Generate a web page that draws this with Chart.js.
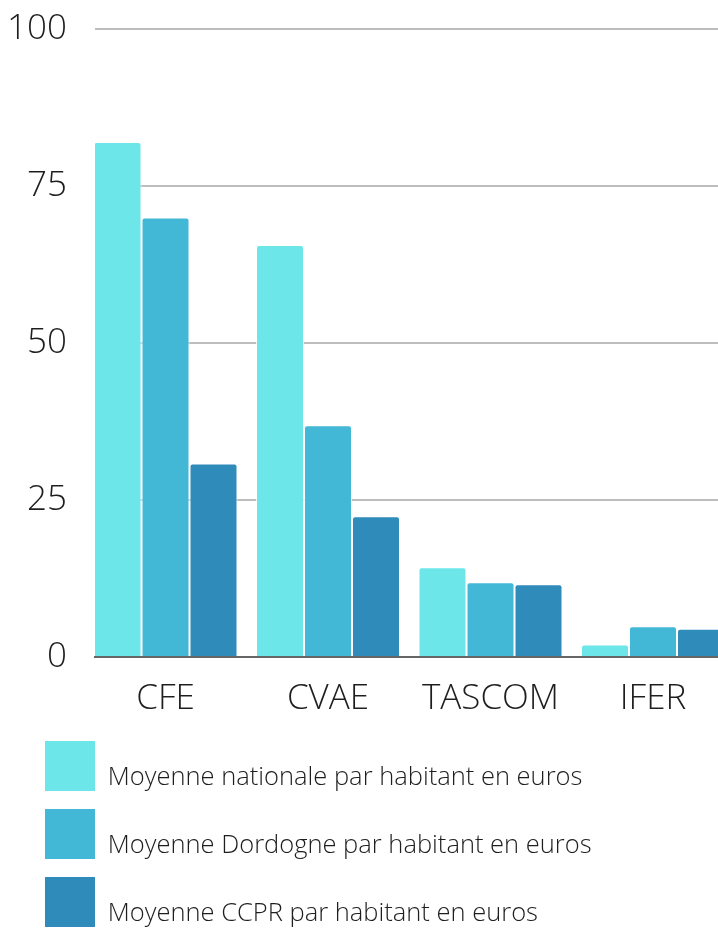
<!DOCTYPE html>
<html lang="fr">
<head>
<meta charset="utf-8">
<title>Fiscalité économique par habitant</title>
<script src="https://cdn.jsdelivr.net/npm/chart.js@4/dist/chart.umd.min.js"></script>
<style>
  html, body { margin: 0; padding: 0; background: #fff; overflow: hidden; }
  #wrap { width: 718px; height: 928px; position: relative; }
</style>
</head>
<body>
<div id="wrap"><canvas id="taxChart"></canvas></div>
<script>
const categories = ["CFE", "CVAE", "TASCOM", "IFER"];
const seriesNames = [
  "Moyenne nationale par habitant en euros",
  "Moyenne Dordogne par habitant en euros",
  "Moyenne CCPR par habitant en euros"
];
const nationale = [82, 65.6, 14.3, 2];
const dordogne = [70, 36.9, 11.9, 4.9];
const ccpr = [30.8, 22.4, 11.6, 4.5];
const yTicks = [0, 25, 50, 75, 100];

const colors = ["#6ce6e8", "#42b8d6", "#2e8bba"];
const font = "'Open Sans', 'Noto Sans', sans-serif";
const axisFont = { family: font, size: 35, weight: 300 };

// y labels are mirrored (so they are not clipped to the axis box) and pushed back
// left of the plot; the widest label sets how far
const measure = document.createElement("canvas").getContext("2d");
measure.font = `300 35px ${font}`;
const widestY = Math.max(...yTicks.map(v => measure.measureText(String(v)).width));

const taxChart = new Chart(document.getElementById("taxChart"), {
  type: "bar",
  data: {
    labels: categories.map((c, i) => i),
    datasets: [nationale, dordogne, ccpr].map((values, i) => ({
      label: seriesNames[i],
      data: values,
      backgroundColor: colors[i],
      borderColor: "rgba(255,255,255,0.85)",
      borderWidth: 1,
      borderRadius: 3,
      barPercentage: 1,
      categoryPercentage: 0.886
    }))
  },
  options: {
    responsive: true,
    maintainAspectRatio: false,
    animation: false,
    layout: { padding: { left: 27, top: 29, right: 0, bottom: 0 } },
    scales: {
      x: {
        type: "linear",
        offset: false,
        min: -0.434,
        max: 3.4,
        afterBuildTicks: s => { s.ticks = categories.map((c, i) => ({ value: i })); },
        afterFit: s => { s.height = 66; },
        grid: { display: false, drawTicks: false },
        border: { display: true, color: "#666", width: 2 },
        ticks: {
          callback: v => categories[v],
          color: "#1e1e1e",
          padding: 21,
          maxRotation: 0,
          font: axisFont
        }
      },
      y: {
        min: 0,
        max: 100,
        afterBuildTicks: s => { s.ticks = yTicks.map(v => ({ value: v })); },
        afterFit: s => { s.width = 68; },
        grid: { color: "#bdbdbd", lineWidth: 2, drawTicks: false },
        border: { display: false },
        ticks: {
          mirror: true,
          crossAlign: "far",
          color: "#1e1e1e",
          padding: -28 - widestY,
          font: axisFont
        }
      }
    },
    plugins: {
      tooltip: { enabled: false },
      legend: {
        position: "bottom",
        align: "start",
        maxHeight: 205,
        labels: {
          boxWidth: 50,
          boxHeight: 50,
          padding: 18,
          color: "#1e1e1e",
          font: { family: font, size: 25.5, weight: 300, lineHeight: 0.45 },
          // empty first line drops each label a little below the middle of its box
          generateLabels: chart =>
            Chart.defaults.plugins.legend.labels.generateLabels(chart).map(item => ({
              ...item,
              text: ["", item.text],
              lineWidth: 0
            }))
        }
      }
    }
  }
});
</script>
</body>
</html>
